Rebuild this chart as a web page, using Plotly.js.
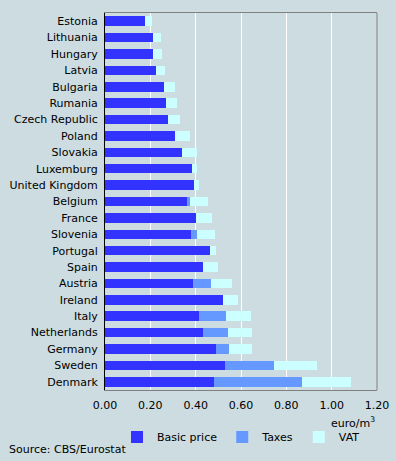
<!DOCTYPE html>
<html><head><meta charset="utf-8">
<script src="https://cdn.plot.ly/plotly-3.0.1.min.js"></script>
<style>html,body{margin:0;padding:0;background:#CCDCE1;}</style>
</head><body><div id="chart" style="width:396px;height:461px;"></div>
<script>
const countries = ["Estonia","Lithuania","Hungary","Latvia","Bulgaria","Rumania","Czech Republic","Poland","Slovakia","Luxemburg","United Kingdom","Belgium","France","Slovenia","Portugal","Spain","Austria","Ireland","Italy","Netherlands","Germany","Sweden","Denmark"];
const basicPrice = [0.176,0.212,0.212,0.225,0.260,0.269,0.278,0.309,0.340,0.384,0.393,0.362,0.401,0.379,0.463,0.432,0.388,0.520,0.415,0.432,0.490,0.529,0.481];
const taxes      = [0,0,0,0,0,0,0,0,0,0,0,0.013,0,0.027,0,0,0.080,0,0.119,0.111,0.057,0.217,0.388];
const vat        = [0.031,0.035,0.039,0.040,0.049,0.049,0.053,0.066,0.064,0.020,0.022,0.079,0.071,0.079,0.027,0.066,0.092,0.067,0.110,0.105,0.101,0.189,0.216];
const xTicks = [0,0.2,0.4,0.6,0.8,1.0,1.2];
const xTickLabels = ["0.00","0.20","0.40","0.60","0.80","1.00","1.20"];

const font = {family:"DejaVu Sans, Verdana, sans-serif", size:11, color:"#000"};
function bar(name, vals, color){
  return {type:"bar", orientation:"h", name:name, y:countries, x:vals,
    marker:{color:color, line:{width:0}}, hoverinfo:"x+y"};
}
const data = [
  bar("Basic price", basicPrice, "#3333FF"),
  bar("Taxes", taxes, "#6699FF"),
  bar("VAT", vat, "#CCFFFF")
];
const layout = {
  width:396, height:461,
  margin:{l:105, r:19, t:13, b:71},
  paper_bgcolor:"#CCDCE1", plot_bgcolor:"#CCDCE1",
  barmode:"stack", bargap:0.42,
  font:font,
  showlegend:true,
  legend:{orientation:"h", x:0.5, xanchor:"center", yref:"container", y:0.052, yanchor:"middle",
    traceorder:"normal", font:font, bgcolor:"rgba(0,0,0,0)", itemwidth:30,
    tracegroupgap:0},
  xaxis:{range:[0,1.2], tickvals:xTicks, ticktext:xTickLabels, showgrid:true,
    gridcolor:"#FFFFFF", gridwidth:1, showline:true, linecolor:"#808080", linewidth:1,
    mirror:true, zeroline:false, ticks:"", ticklabelstandoff:5, tickfont:font,
    automargin:false, fixedrange:true},
  yaxis:{categoryorder:"array", categoryarray:countries, autorange:"reversed",
    showline:true, linecolor:"#000", linewidth:1, showgrid:false, zeroline:false,
    ticks:"", ticklabelstandoff:4, tickfont:font, automargin:false, fixedrange:true},
  shapes:[{type:"line", xref:"paper", yref:"paper", x0:1, x1:1, y0:0, y1:1,
    line:{color:"#808080", width:1}}],
  annotations:[
    {xref:"paper", yref:"paper", x:1, y:-0.086, xanchor:"right", yanchor:"middle",
      text:"euro/m<sup>3</sup>", showarrow:false, font:font},
    {xref:"paper", yref:"paper", x:-0.36, y:-0.157, xanchor:"left", yanchor:"middle",
      text:"Source: CBS/Eurostat", showarrow:false, font:font}
  ]
};
Plotly.newPlot("chart", data, layout, {displayModeBar:false, staticPlot:true});
</script></body></html>
